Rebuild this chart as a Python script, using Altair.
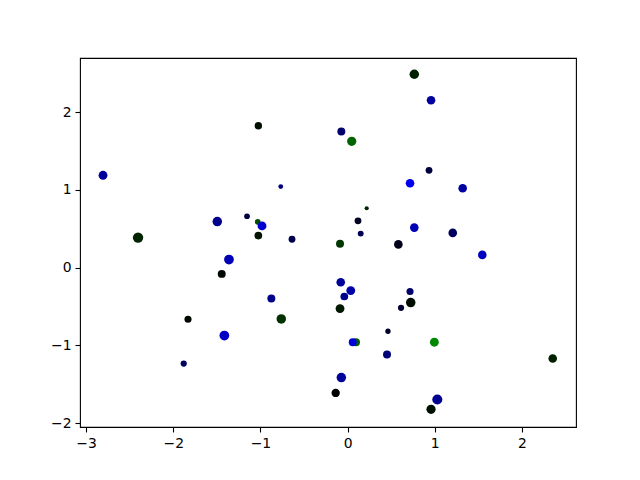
import altair as alt
import pandas as pd

xs = [-2.806, -2.404, -1.495, -1.361, -1.444, -1.154, -1.024, -1.024, -1.031, -0.982,
      -0.767, -0.638, -0.875, -0.761, -1.414, -1.831, -1.880, 0.765, 0.957, -0.072,
      0.047, 0.934, 0.716, 1.320, 0.219, 0.119, 0.150, 0.765, 1.206, -0.087,
      0.582, 1.545, -0.079, 0.036, -0.038, -0.087, 0.716, 0.724, 0.613, 0.463,
      0.096, 0.059, 0.995, 0.452, 2.353, -0.072, -0.137, 1.029, 0.957]
ys = [1.187, 0.386, 0.592, 0.103, -0.081, 0.660, 1.823, 0.412, 0.588, 0.536,
      1.042, 0.364, -0.399, -0.660, -0.874, -0.664, -1.234, 2.486, 2.152, 1.749,
      1.624, 1.251, 1.084, 1.020, 0.763, 0.601, 0.437, 0.514, 0.446, 0.305,
      0.298, 0.163, -0.189, -0.296, -0.372, -0.527, -0.308, -0.450, -0.518, -0.819,
      -0.960, -0.960, -0.960, -1.119, -1.170, -1.414, -1.612, -1.697, -1.822]
diams = [9.3, 11, 10, 10.3, 8.3, 5.7, 7.7, 8, 5.7, 9.3,
         4.7, 7, 8.3, 10, 10.3, 7.3, 6.3, 10, 9, 8.3,
         9.7, 7, 9, 9, 4, 7, 6, 9, 9, 8.3,
         9, 9, 9, 9.3, 8, 9.3, 7.3, 10, 6.3, 5.3,
         8.3, 8.3, 9.3, 8.3, 9, 10, 8.7, 10.7, 9.7]
colors = ["#00009a", "#002400", "#00008c", "#0000b4", "#000a00", "#00003c", "#001000", "#001400", "#005000", "#0000d2",
          "#00007a", "#000050", "#000088", "#003200", "#0000c4", "#000800", "#000060", "#002000", "#00009e", "#000070",
          "#006400", "#000040", "#0000f0", "#0000a0", "#002400", "#000020", "#000050", "#0000b4", "#00005c", "#003800",
          "#000018", "#0000c0", "#00009a", "#0000a8", "#000090", "#001800", "#00006a", "#000c00", "#000030", "#000028",
          "#006000", "#0000d8", "#008800", "#000078", "#002000", "#00009a", "#000000", "#000090", "#001000"]

df = pd.DataFrame({
    "x": xs, "y": ys,
    "size": [3.14159 * ((d + 0.7) / 2) ** 2 for d in diams],
    "color": colors,
    "order": list(range(len(xs))),
})

minus = "replace(datum.label, '-', '\u2212')"

axis_common = dict(
    grid=False, domain=False, tickColor="black", tickSize=5, tickWidth=1.1,
    labelColor="black", labelFont="DejaVu Sans", labelFontSize=13.9,
    labelPadding=4, title=None, labelExpr=minus,
)

chart = alt.Chart(df).mark_circle(opacity=1).encode(
    x=alt.X("x:Q", scale=alt.Scale(domain=[-3.07, 2.62], nice=False, zero=False),
            axis=alt.Axis(values=[-3, -2, -1, 0, 1, 2], **axis_common)),
    y=alt.Y("y:Q", scale=alt.Scale(domain=[-2.05, 2.695], nice=False, zero=False),
            axis=alt.Axis(values=[-2, -1, 0, 1, 2], **axis_common)),
    size=alt.Size("size:Q", scale=None),
    color=alt.Color("color:N", scale=None),
    order=alt.Order("order:Q"),
).properties(
    width=496, height=369,
    autosize="none",
    padding={"left": 72, "top": 50, "right": 56, "bottom": 45},
    background="white",
).configure_view(stroke="black", strokeWidth=1.1)

chart.save("out.html", embed_options={"renderer": "svg", "actions": False})
